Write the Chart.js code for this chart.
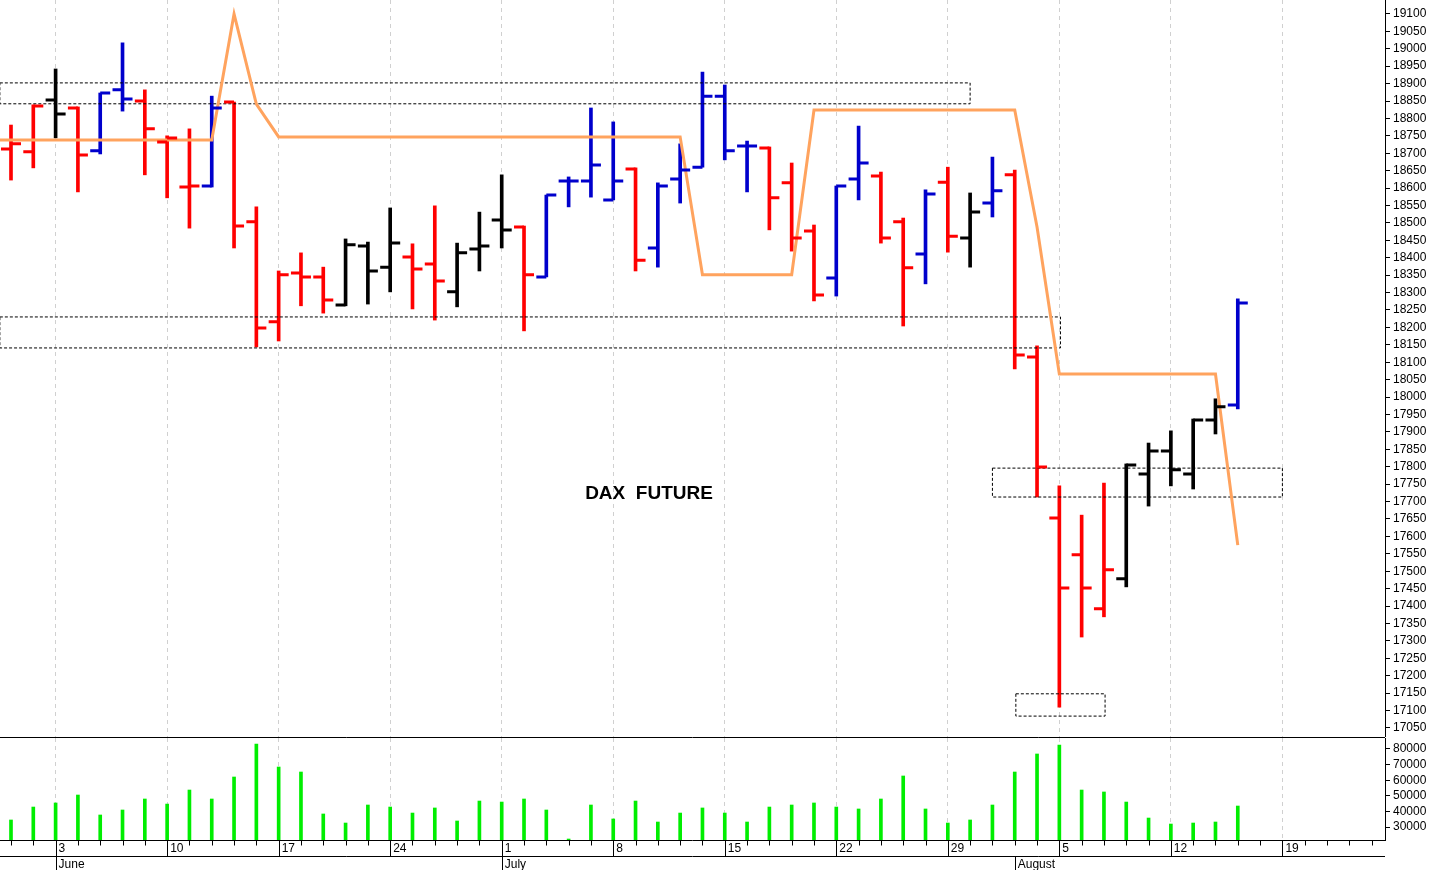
<!DOCTYPE html>
<html><head><meta charset="utf-8">
<script src="https://cdn.jsdelivr.net/npm/chart.js@4"></script>
<style>
html,body{margin:0;padding:0;background:#fff;width:1433px;height:870px;overflow:hidden}
#w1{position:absolute;left:0;top:0;width:1433px;height:737px}
#w2{position:absolute;left:0;top:737px;width:1433px;height:133px}
</style></head><body>
<div id="w1"><canvas id="c1"></canvas></div>
<div id="w2"><canvas id="c2"></canvas></div>
<script>
const opens  = [18712,18704,18853,18830,18707,18882,18850,18732,18603,18606,18847,18503,18216,18356,18345,18264,18434,18373,18402,18382,18302,18425,18508,18488,18345,18620,18620,18566,18655,18428,18626,18660,18864,18721,18715,18615,18477,18342,18626,18635,18503,18411,18617,18457,18557,18638,18115,17653,17547,17392,17478,17779,17845,17779,17934,17977];
const highs  = [18781,18839,18942,18833,18873,19017,18882,18750,18770,18864,18847,18546,18362,18414,18373,18454,18445,18543,18440,18549,18442,18531,18638,18491,18580,18632,18830,18790,18658,18615,18727,18933,18896,18735,18718,18672,18494,18606,18778,18646,18514,18595,18660,18586,18689,18652,18147,17745,17661,17753,17808,17868,17903,17937,17995,18282];
const lows   = [18623,18658,18744,18589,18698,18821,18638,18572,18485,18603,18428,18144,18161,18262,18241,18262,18267,18302,18253,18221,18259,18362,18428,18190,18345,18546,18574,18566,18362,18373,18557,18660,18681,18589,18480,18419,18276,18290,18566,18442,18204,18325,18416,18373,18517,18081,17713,17110,17311,17369,17455,17687,17745,17736,17894,17966];
const closes = [18727,18836,18813,18695,18873,18856,18770,18744,18606,18830,18491,18198,18351,18345,18279,18437,18362,18442,18368,18333,18414,18434,18480,18351,18580,18620,18666,18620,18393,18606,18652,18864,18707,18721,18572,18457,18293,18606,18672,18457,18371,18583,18462,18531,18592,18121,17799,17452,17452,17504,17805,17845,17791,17934,17972,18270];
const barColors = "RRKRBBRRRBRRRRRKKKRRKKKRBBBBRBBBBBRRRBBRRBRKBRRRRRKKKKKB".split("");
const volumes = [34500,42800,45400,50500,37700,40900,47950,44700,53700,47950,62050,83200,68450,65250,38350,32550,44100,42800,38950,42200,33850,46650,46000,47950,40900,22300,44100,35150,46650,33200,38950,42200,38950,33200,42800,44100,45400,42800,41550,47950,62700,41550,32550,34500,44100,65250,76800,82550,53700,52450,46000,35750,31900,32550,33200,43450];
const trendLine = [18738,18738,18738,18738,18738,18738,18738,18738,18738,18738,19100,18841,18747,18747,18747,18747,18747,18747,18747,18747,18747,18747,18747,18747,18747,18747,18747,18747,18747,18747,18747,18351,18351,18351,18351,18351,18824,18824,18824,18824,18824,18824,18824,18824,18824,18824,18488,18066,18066,18066,18066,18066,18066,18066,18066,17575];
const zones = [[-0.5,43.0,18842,18902],[-0.5,47.05,18141,18230],[44.0,57.0,17713,17796],[45.05,49.05,17084,17148]];
const weekIdx   = [2,7,12,17,22,27,32,37,42,47,52,57];
const weekLabels= ["3","10","17","24","1","8","15","22","29","5","12","19"];
const monthIdx  = [2,22,45];
const monthLabels=["June","July","August"];
const priceTicks = []; for(let p=17050;p<=19100;p+=50) priceTicks.push(p);
const volTicks = [30000,40000,50000,60000,70000,80000];

const COL={R:'#ff0000',B:'#0000cc',K:'#000000'};
const XMIN=-0.493, XMAX=61.6;
const FONT='"Liberation Sans", Arial, sans-serif';
Chart.defaults.font.family=FONT;
Chart.defaults.animation=false;

function xScale(){ return {
  type:'linear', min:XMIN, max:XMAX, offset:false,
  afterBuildTicks:s=>{s.ticks=weekIdx.map(v=>({value:v}));},
  ticks:{display:false}, border:{display:false, dash:[4,4]},
  grid:{color:'#d0d0d0', lineWidth:1, tickLength:0, drawTicks:false, offset:false},
  afterFit:s=>{s.height=0;s.paddingLeft=0;s.paddingRight=0;}
};}
function yScale(min,max,ticks){ return {
  position:'right',min,max,
  afterBuildTicks:s=>{s.ticks=ticks.map(v=>({value:v}));},
  afterFit:s=>{s.width=48;s.paddingTop=0;s.paddingBottom=0;},
  ticks:{color:'#000',font:{size:12},padding:3,callback:v=>String(v)},
  grid:{drawOnChartArea:false,tickLength:5,color:'#000'},
  border:{display:true,color:'#000'}
};}

const ohlcTicks={id:'ohlcTicks',afterDatasetsDraw(ch){
  const x=ch.scales.x,y=ch.scales.y,ctx=ch.ctx;ctx.save();ctx.lineWidth=3;
  for(let i=0;i<opens.length;i++){
    const px=x.getPixelForValue(i);ctx.strokeStyle=COL[barColors[i]];
    ctx.beginPath();ctx.moveTo(px-10,y.getPixelForValue(opens[i]));ctx.lineTo(px,y.getPixelForValue(opens[i]));
    ctx.moveTo(px,y.getPixelForValue(closes[i]));ctx.lineTo(px+10,y.getPixelForValue(closes[i]));ctx.stroke();
  }
  ctx.fillStyle='#000';ctx.font='bold 19px '+FONT;ctx.textAlign='center';ctx.textBaseline='middle';
  ctx.fillText('DAX  FUTURE',649,494);
  ctx.restore();
}};

const datasets=[];
datasets.push({type:'bar',data:highs.map((h,i)=>({x:i,y:[lows[i],h]})),backgroundColor:barColors.map(c=>COL[c]),barThickness:3,grouped:false,order:3});
datasets.push({type:'line',data:[{x:XMIN,y:trendLine[0]}].concat(trendLine.map((v,i)=>({x:i,y:v}))),borderColor:'#ffa35e',borderWidth:3,pointRadius:0,tension:0,order:1});
zones.forEach(z=>{
  datasets.push({type:'line',data:[{x:z[0],y:z[3]},{x:z[1],y:z[3]},{x:z[1],y:z[2]},{x:z[0],y:z[2]},{x:z[0],y:z[3]}],
    borderColor:'#000',borderWidth:1,borderDash:[3,2],pointRadius:0,tension:0,fill:false,order:2});
});

new Chart(document.getElementById('c1'),{
  data:{datasets},
  options:{responsive:true,maintainAspectRatio:false,layout:{padding:0},
    plugins:{legend:{display:false},tooltip:{enabled:false}},
    scales:{x:xScale(), y:yScale(17024,19140,priceTicks)}},
  plugins:[ohlcTicks]
});

const dateAxis={id:'dateAxis',afterDraw(ch){
  const x=ch.scales.x,ctx=ch.ctx,a=ch.chartArea;ctx.save();
  ctx.strokeStyle='#000';ctx.lineWidth=1;
  const b=Math.round(a.bottom)+0.5;
  ctx.beginPath();ctx.moveTo(0,0.5);ctx.lineTo(1385,0.5);
  ctx.moveTo(0,b);ctx.lineTo(1385,b);
  ctx.moveTo(0,b+16);ctx.lineTo(1385,b+16);
  for(let i=0;i<=61;i++){const px=Math.round(x.getPixelForValue(i))+0.5;ctx.moveTo(px,b);ctx.lineTo(px,b+5);}
  weekIdx.forEach(i=>{const px=Math.round(x.getPixelForValue(i))+0.5;ctx.moveTo(px,b);ctx.lineTo(px,b+16);});
  monthIdx.forEach(i=>{const px=Math.round(x.getPixelForValue(i))+0.5;ctx.moveTo(px,b+16);ctx.lineTo(px,b+32);});
  ctx.stroke();
  ctx.fillStyle='#000';ctx.font='12px '+FONT;ctx.textAlign='left';ctx.textBaseline='top';
  weekIdx.forEach((i,k)=>ctx.fillText(weekLabels[k],x.getPixelForValue(i)+3,b+2));
  monthIdx.forEach((i,k)=>ctx.fillText(monthLabels[k],x.getPixelForValue(i)+3,b+18));
  ctx.restore();
}};

new Chart(document.getElementById('c2'),{
  data:{datasets:[{type:'bar',data:volumes.map((v,i)=>({x:i,y:v})),backgroundColor:'#00ee00',barThickness:3}]},
  options:{responsive:true,maintainAspectRatio:false,layout:{padding:{top:1,bottom:30}},
    plugins:{legend:{display:false},tooltip:{enabled:false}},
    scales:{x:xScale(), y:yScale(21670,87050,volTicks)}},
  plugins:[dateAxis]
});
</script></body></html>
